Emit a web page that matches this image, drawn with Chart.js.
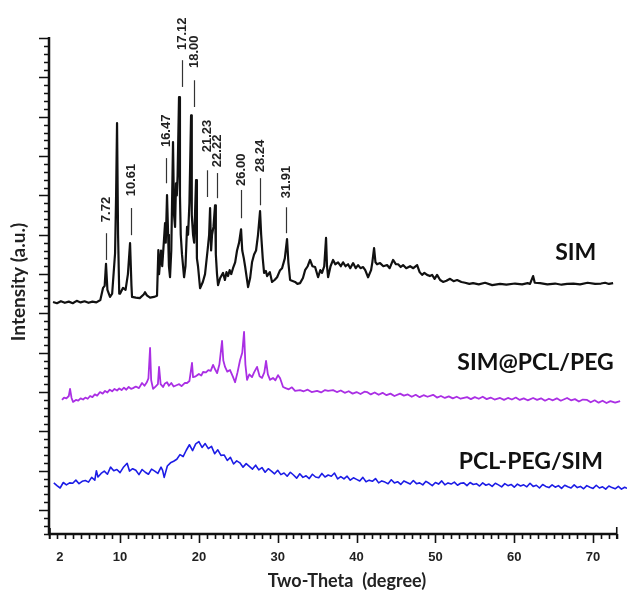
<!DOCTYPE html>
<html>
<head>
<meta charset="utf-8">
<script src="https://cdn.jsdelivr.net/npm/chart.js@4.4.1/dist/chart.umd.min.js"></script>
<style>
  html, body { margin: 0; padding: 0; background: #fff; }
  canvas { display: block; }
</style>
</head>
<body>
<canvas id="xrd" width="627" height="590"></canvas>
<script>
// SIM (black)
const simX = [1.5, 2.0, 2.5, 3.0, 3.5, 4.0, 4.5, 5.0, 5.5, 6.0, 6.5, 7.0, 7.5, 7.85, 8.05, 8.22, 8.4, 8.73, 9.0, 9.37, 9.5, 9.62, 9.75, 9.9, 10.0, 10.38, 10.7, 11.0, 11.27, 11.45, 11.52, 12.0, 12.5, 13.0, 13.17, 13.4, 13.81, 14.3, 14.69, 14.86, 14.95, 15.2, 15.35, 15.55, 15.71, 15.8, 15.96, 16.1, 16.2, 16.34, 16.5, 16.72, 16.85, 16.98, 17.1, 17.2, 17.3, 17.48, 17.6, 17.7, 17.86, 18.12, 18.3, 18.5, 18.63, 18.8, 19.01, 19.1, 19.26, 19.4, 19.64, 19.75, 19.89, 20.15, 20.5, 20.78, 21.1, 21.3, 21.42, 21.55, 21.67, 21.85, 22.05, 22.15, 22.3, 22.43, 22.7, 23.07, 23.3, 23.5, 23.7, 23.9, 24.1, 24.33, 24.6, 24.84, 25.1, 25.35, 25.5, 25.7, 25.86, 26.24, 26.5, 26.74, 27.0, 27.25, 27.5, 27.76, 27.9, 28.1, 28.27, 28.5, 28.65, 29.0, 29.28, 29.6, 29.92, 30.3, 30.55, 30.9, 31.18, 31.35, 31.57, 32.2, 32.5, 32.83, 33.2, 33.47, 33.8, 34.1, 34.4, 34.74, 35.12, 35.4, 35.62, 35.9, 36.13, 36.25, 36.39, 36.7, 37.02, 37.3, 37.65, 38.0, 38.29, 38.6, 38.92, 39.2, 39.56, 39.9, 40.19, 40.5, 40.83, 41.1, 41.46, 41.84, 42.0, 42.22, 42.4, 42.6, 42.98, 43.4, 43.87, 44.2, 44.63, 45.0, 45.27, 45.6, 45.9, 46.3, 46.79, 47.2, 47.68, 48.0, 48.31, 48.6, 48.94, 49.3, 49.58, 49.9, 50.21, 50.6, 50.97, 51.4, 51.86, 52.3, 52.75, 53.3, 53.76, 54.3, 54.78, 55.5, 56.3, 57.2, 58.2, 59.0, 60.1, 61.0, 61.7, 62.0, 62.39, 62.6, 63.28, 64.2, 65.18, 66.0, 66.7, 67.5, 68.35, 69.3, 70.26, 71.0, 71.53, 72.0, 72.54];
const simY = [52.9, 52.6, 53.1, 52.7, 53.0, 52.6, 53.2, 52.8, 53.1, 52.7, 53.0, 52.8, 53.4, 56.5, 57.0, 62.6, 56.0, 54.2, 55.0, 65.3, 80.0, 98.4, 70.0, 55.0, 55.0, 56.5, 56.0, 60.0, 67.9, 57.0, 54.2, 54.0, 53.9, 54.8, 55.4, 54.6, 54.0, 54.2, 54.5, 66.1, 60.0, 66.0, 62.0, 68.0, 73.0, 68.0, 80.1, 70.0, 62.0, 59.2, 66.0, 93.6, 75.0, 72.0, 83.1, 80.0, 85.0, 105.0, 80.0, 70.0, 65.0, 59.2, 62.0, 72.0, 70.0, 78.0, 100.4, 75.0, 70.0, 68.0, 83.9, 64.0, 62.0, 56.4, 58.0, 60.0, 66.0, 70.0, 76.8, 66.0, 70.0, 72.0, 77.5, 65.0, 60.0, 57.2, 59.0, 60.3, 58.5, 60.5, 59.5, 61.0, 60.0, 61.5, 63.0, 66.0, 68.0, 71.4, 66.0, 64.0, 62.0, 56.7, 59.0, 63.0, 65.0, 66.0, 70.0, 76.0, 70.0, 64.0, 60.3, 60.8, 59.5, 60.5, 58.0, 58.5, 59.2, 61.0, 61.5, 64.0, 68.9, 63.0, 58.5, 58.0, 57.5, 57.7, 59.0, 61.0, 62.0, 63.6, 62.0, 61.8, 59.2, 61.0, 60.3, 62.0, 69.2, 62.0, 59.2, 62.0, 63.6, 62.5, 63.0, 62.0, 63.0, 62.0, 62.5, 61.5, 62.8, 61.5, 62.3, 61.5, 61.8, 61.0, 59.2, 61.0, 63.0, 66.6, 63.0, 62.5, 62.8, 62.0, 62.3, 61.5, 63.6, 62.5, 62.5, 61.8, 62.3, 61.5, 62.0, 61.5, 62.3, 60.5, 59.8, 60.3, 59.8, 59.5, 59.8, 58.8, 59.8, 58.5, 58.0, 58.3, 58.8, 58.2, 58.5, 58.0, 57.8, 57.5, 57.7, 57.4, 57.8, 57.2, 57.5, 57.3, 57.6, 57.4, 57.7, 57.5, 59.5, 57.8, 57.7, 57.4, 57.6, 57.3, 57.5, 57.6, 57.4, 57.8, 57.5, 57.6, 57.8, 57.5, 57.7];

// SIM@PCL/PEG (violet)
const mixX = [2.64, 2.9, 3.2, 3.5, 3.66, 3.85, 4.04, 4.4, 4.7, 5.0, 5.31, 5.6, 5.9, 6.2, 6.5, 6.8, 7.1, 7.46, 7.8, 8.1, 8.4, 8.7, 9.0, 9.3, 9.62, 9.9, 10.2, 10.5, 10.8, 11.1, 11.4, 11.65, 12.0, 12.4, 12.79, 13.1, 13.4, 13.6, 13.81, 13.95, 14.19, 14.5, 14.8, 14.95, 15.15, 15.45, 15.7, 15.96, 16.2, 16.5, 16.8, 17.23, 17.5, 17.8, 18.2, 18.5, 18.8, 19.13, 19.26, 19.6, 20.0, 20.3, 20.53, 20.9, 21.2, 21.5, 21.8, 22.05, 22.31, 22.6, 22.94, 23.1, 23.32, 23.6, 23.95, 24.3, 24.59, 24.9, 25.22, 25.5, 25.73, 25.9, 26.11, 26.4, 26.74, 27.0, 27.38, 27.7, 28.01, 28.3, 28.52, 28.75, 29.03, 29.4, 29.7, 30.04, 30.3, 30.68, 31.0, 31.4, 31.8, 32.2, 32.83, 33.3, 33.8, 34.3, 34.99, 35.5, 36.0, 36.39, 37.02, 37.5, 38.0, 38.5, 39.0, 39.5, 40.0, 40.5, 41.0, 41.33, 41.8, 42.3, 42.8, 43.3, 43.8, 44.3, 44.8, 45.52, 46.0, 46.5, 47.0, 47.5, 48.0, 48.5, 49.0, 49.71, 50.2, 50.7, 51.2, 51.7, 52.2, 52.7, 53.2, 54.02, 54.5, 55.0, 55.5, 56.0, 56.5, 57.0, 57.5, 58.2, 58.7, 59.2, 59.7, 60.2, 60.7, 61.2, 61.7, 62.39, 62.9, 63.4, 63.9, 64.4, 64.9, 65.4, 65.9, 66.7, 67.2, 67.7, 68.2, 68.7, 69.24, 69.7, 70.2, 70.7, 71.2, 71.7, 72.2, 72.8, 73.43];
const mixY = [28.0, 28.6, 28.4, 29.0, 30.8, 28.5, 27.5, 28.0, 27.8, 28.4, 28.1, 28.6, 28.3, 29.0, 28.7, 29.4, 29.1, 30.0, 29.6, 30.3, 29.9, 30.6, 30.2, 30.8, 30.4, 30.9, 30.5, 31.1, 30.6, 31.3, 30.8, 31.0, 31.4, 31.0, 32.3, 31.6, 32.5, 33.5, 41.2, 33.0, 30.8, 31.4, 32.0, 36.4, 32.0, 31.3, 32.2, 32.5, 31.6, 32.3, 31.4, 31.8, 32.0, 31.5, 32.3, 32.3, 32.8, 37.4, 33.8, 34.0, 34.6, 34.2, 35.1, 35.0, 35.6, 35.4, 36.9, 35.8, 34.8, 37.0, 43.0, 38.0, 36.4, 35.2, 35.6, 34.0, 32.5, 35.0, 38.1, 40.0, 45.3, 37.0, 33.1, 34.5, 33.8, 35.0, 36.4, 34.0, 33.6, 35.0, 37.9, 34.5, 33.1, 33.6, 33.0, 34.3, 33.5, 31.3, 31.0, 30.7, 31.2, 30.3, 30.5, 30.2, 30.6, 30.0, 30.3, 29.9, 30.5, 30.3, 30.5, 30.0, 30.4, 29.8, 30.2, 29.6, 30.0, 29.5, 30.1, 30.0, 29.4, 29.9, 29.3, 29.8, 29.2, 29.6, 29.0, 29.6, 29.1, 29.4, 28.8, 29.3, 28.7, 29.2, 28.8, 29.3, 28.6, 29.0, 28.5, 28.9, 28.4, 28.8, 28.3, 28.7, 28.2, 28.7, 28.3, 28.8, 28.2, 28.6, 28.1, 28.5, 28.0, 28.5, 28.1, 28.6, 28.0, 28.4, 27.9, 28.5, 28.0, 28.4, 27.8, 28.3, 27.9, 28.4, 27.8, 28.5, 27.9, 28.2, 27.6, 28.1, 28.0, 27.4, 27.9, 27.3, 27.8, 27.2, 27.7, 27.3, 27.7];

// PCL-PEG/SIM (blue)
const blendX = [1.6, 2.0, 2.4, 2.8, 3.2, 3.6, 4.0, 4.4, 4.8, 5.2, 5.6, 6.0, 6.4, 6.8, 7.0, 7.2, 7.6, 8.0, 8.4, 8.8, 9.2, 9.6, 10.0, 10.4, 10.9, 11.2, 11.6, 12.0, 12.4, 12.8, 13.2, 13.6, 14.0, 14.4, 14.8, 15.2, 15.4, 15.6, 16.0, 16.4, 16.8, 17.2, 17.6, 18.0, 18.4, 18.8, 19.2, 19.6, 20.0, 20.4, 20.8, 21.2, 21.6, 22.0, 22.4, 22.8, 23.2, 23.6, 24.0, 24.4, 24.8, 25.2, 25.6, 26.0, 26.4, 26.8, 27.2, 27.6, 28.0, 28.4, 28.8, 29.2, 29.6, 30.0, 30.4, 30.8, 31.2, 31.6, 32.0, 32.4, 32.8, 33.2, 33.6, 34.0, 34.4, 34.8, 35.2, 35.6, 36.0, 36.4, 36.8, 37.2, 37.6, 38.0, 38.4, 38.8, 39.2, 39.6, 40.0, 40.4, 40.8, 41.2, 41.6, 42.0, 42.4, 42.8, 43.2, 43.6, 44.0, 44.4, 44.8, 45.2, 45.6, 46.0, 46.4, 46.8, 47.2, 47.6, 48.0, 48.4, 48.8, 49.2, 49.6, 50.0, 50.4, 50.8, 51.2, 51.6, 52.0, 52.4, 52.8, 53.2, 53.6, 54.0, 54.4, 54.8, 55.2, 55.6, 56.0, 56.4, 56.8, 57.2, 57.6, 58.0, 58.4, 58.8, 59.2, 59.6, 60.0, 60.4, 60.8, 61.2, 61.6, 62.0, 62.4, 62.8, 63.2, 63.6, 64.0, 64.4, 64.8, 65.2, 65.6, 66.0, 66.4, 66.8, 67.2, 67.6, 68.0, 68.4, 68.8, 69.2, 69.6, 70.0, 70.4, 70.8, 71.2, 71.6, 72.0, 72.4, 72.8, 73.2, 73.6, 74.0, 74.3];
const blendY = [6.9, 6.2, 5.6, 7.0, 6.4, 6.9, 6.8, 7.6, 6.7, 7.3, 7.5, 7.1, 8.3, 7.6, 10.0, 8.4, 9.3, 9.9, 9.1, 10.9, 10.0, 10.3, 9.5, 10.8, 11.9, 9.9, 10.5, 10.1, 9.0, 10.3, 9.6, 9.1, 10.4, 9.9, 9.3, 10.9, 10.1, 8.3, 11.2, 12.0, 12.4, 12.9, 14.1, 13.6, 15.2, 16.6, 15.1, 16.8, 17.4, 15.9, 16.9, 15.6, 16.2, 14.3, 15.3, 13.9, 14.0, 12.6, 13.4, 11.7, 12.5, 12.0, 10.9, 11.8, 11.1, 10.4, 11.4, 10.2, 10.8, 9.6, 10.5, 9.9, 9.2, 10.1, 9.0, 9.4, 8.6, 9.6, 8.9, 8.1, 9.2, 8.3, 8.7, 8.0, 9.1, 8.4, 8.2, 9.3, 8.4, 8.9, 8.6, 9.4, 7.9, 8.5, 7.9, 8.6, 7.6, 8.2, 7.8, 7.4, 8.3, 7.2, 7.6, 7.3, 8.0, 6.9, 7.4, 7.1, 6.7, 7.7, 6.9, 7.2, 6.5, 7.4, 7.0, 6.6, 7.5, 6.7, 6.9, 6.4, 7.3, 6.8, 6.2, 7.0, 6.6, 7.4, 6.4, 6.9, 6.6, 7.1, 6.3, 6.8, 6.9, 6.2, 7.0, 6.5, 6.7, 6.1, 6.9, 6.3, 6.6, 6.0, 6.8, 6.4, 5.9, 6.7, 6.2, 6.5, 5.8, 6.6, 6.1, 6.4, 5.9, 6.8, 6.0, 6.3, 5.6, 6.5, 6.0, 5.7, 6.4, 5.8, 6.2, 5.5, 6.3, 5.9, 5.6, 6.4, 5.7, 6.0, 5.4, 6.2, 5.8, 5.5, 6.3, 5.6, 5.9, 5.3, 6.1, 5.7, 5.4, 6.0, 5.3, 5.8, 5.5];

// peak annotations on the SIM trace
const peakLabels = ['7.72', '10.61', '16.47', '17.12', '18.00', '21.23', '22.22', '26.00', '28.24', '31.91'];
const peakAt = [8.22, 11.40, 15.84, 17.86, 19.39, 21.04, 22.31, 25.35, 27.76, 31.06];
const peakLineLow = [63.6, 69.9, 83.1, 107.6, 102.5, 79.6, 79.3, 74.2, 77.5, 70.4];
const peakLineHigh = [70.4, 76.8, 89.5, 114.4, 109.3, 86.4, 85.7, 81.4, 84.4, 77.0];
const peakTextBase = [73.2, 79.8, 92.3, 117.0, 112.4, 91.0, 87.2, 82.4, 85.9, 79.3];

const xTickLabels = [2, 10, 20, 30, 40, 50, 60, 70];
const seriesNames = ['SIM', 'SIM@PCL/PEG', 'PCL-PEG/SIM'];
const seriesColors = ['#111111', '#aa2fe4', '#1c1ce6'];
// where the series names sit: [2theta, intensity]
const nameAt = [[67.8, 65.4], [62.7, 37.4], [62.1, 12.2]];

const toPoints = (xs, ys) => xs.map((x, i) => ({ x: x, y: ys[i] }));

const axesPlugin = {
  id: 'xrdAxes',
  afterDraw(chart) {
    const ctx = chart.ctx;
    const xs = chart.scales.x, ys = chart.scales.y;
    const left = chart.chartArea.left, bottom = chart.chartArea.bottom, top = chart.chartArea.top;
    const xEnd = xs.getPixelForValue(73);
    ctx.save();
    ctx.strokeStyle = '#111';
    ctx.fillStyle = '#111';

    // axis lines
    ctx.lineWidth = 2.5;
    ctx.beginPath();
    ctx.moveTo(left, top);
    ctx.lineTo(left, bottom + 1);
    ctx.moveTo(left - 1, bottom);
    ctx.lineTo(xEnd, bottom);
    ctx.stroke();

    // x ticks, every degree, longer every ten
    ctx.lineWidth = 1.6;
    ctx.beginPath();
    for (let v = 1; v <= 73; v++) {
      const px = Math.round(xs.getPixelForValue(v)) + 0.5;
      const len = (v % 10 === 0) ? 9 : 5;
      ctx.moveTo(px, bottom);
      ctx.lineTo(px, bottom + len);
    }
    // end crosses
    ctx.moveTo(xEnd, bottom - 7);
    ctx.lineTo(xEnd, bottom + 5);
    ctx.moveTo(left + 1, bottom - 6);
    ctx.lineTo(left + 1, bottom + 5);
    // y ticks, minor every 2, major every 10
    for (let v = -6; v <= 120; v += 2) {
      const py = Math.round(ys.getPixelForValue(v)) + 0.5;
      const len = (v % 10 === 0) ? 10 : 5;
      ctx.moveTo(left, py);
      ctx.lineTo(left - len, py);
    }
    ctx.stroke();

    // x tick labels
    ctx.font = 'bold 13px "Liberation Sans", Arial, sans-serif';
    ctx.textAlign = 'center';
    ctx.textBaseline = 'middle';
    ctx.fillStyle = '#222';
    xTickLabels.forEach(v => {
      ctx.fillText(String(v), xs.getPixelForValue(v) + (v === 2 ? 3 : 0), 557);
    });

    // axis titles
    ctx.font = 'bold 18px Lato, "Open Sans", sans-serif';
    ctx.fillText('Two-Theta  (degree)', 347, 581);
    ctx.save();
    ctx.translate(19, 282);
    ctx.rotate(-Math.PI / 2);
    ctx.font = 'bold 19px Lato, "Open Sans", sans-serif';
    ctx.fillText('Intensity (a.u.)', 0, 0);
    ctx.restore();

    // peak markers
    ctx.strokeStyle = '#333';
    ctx.lineWidth = 1.2;
    ctx.font = 'bold 13px "Liberation Sans", Arial, sans-serif';
    peakLabels.forEach((lab, i) => {
      const px = Math.round(xs.getPixelForValue(peakAt[i])) + 0.5;
      ctx.beginPath();
      ctx.moveTo(px, ys.getPixelForValue(peakLineLow[i]));
      ctx.lineTo(px, ys.getPixelForValue(peakLineHigh[i]));
      ctx.stroke();
      ctx.save();
      ctx.translate(px, ys.getPixelForValue(peakTextBase[i]));
      ctx.rotate(-Math.PI / 2);
      ctx.textAlign = 'left';
      ctx.textBaseline = 'middle';
      ctx.fillStyle = '#222';
      ctx.fillText(lab, 0, 0);
      ctx.restore();
    });

    // series names
    ctx.font = 'bold 23px Lato, "Open Sans", sans-serif';
    ctx.textAlign = 'center';
    ctx.textBaseline = 'middle';
    ctx.fillStyle = '#111';
    seriesNames.forEach((name, i) => {
      ctx.fillText(name, xs.getPixelForValue(nameAt[i][0]), ys.getPixelForValue(nameAt[i][1]));
    });
    ctx.restore();
  }
};

new Chart(document.getElementById('xrd'), {
  type: 'line',
  data: {
    datasets: [
      { label: seriesNames[0], data: toPoints(simX, simY), borderColor: seriesColors[0], borderWidth: 2.2 },
      { label: seriesNames[1], data: toPoints(mixX, mixY), borderColor: seriesColors[1], borderWidth: 1.8 },
      { label: seriesNames[2], data: toPoints(blendX, blendY), borderColor: seriesColors[2], borderWidth: 1.6 }
    ]
  },
  options: {
    responsive: false,
    animation: false,
    layout: { padding: { left: 49, right: 0, top: 37, bottom: 56 } },
    elements: { point: { radius: 0 }, line: { tension: 0, borderJoinStyle: 'round' } },
    plugins: { legend: { display: false }, tooltip: { enabled: false } },
    scales: {
      x: { type: 'linear', display: false, min: 0.99, max: 74.3 },
      y: { type: 'linear', display: false, min: -6.1, max: 120.3 }
    }
  },
  plugins: [axesPlugin]
});
</script>
</body>
</html>
